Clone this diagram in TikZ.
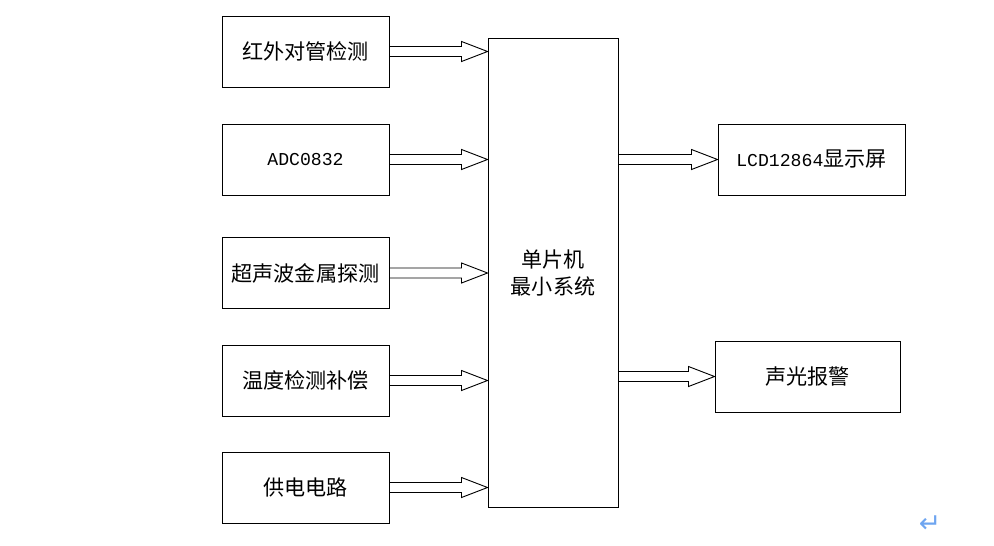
\documentclass[tikz,border=0pt]{standalone}
\usepackage{fontspec}
\usepackage{xcolor}
\usepackage{tikz}
\usetikzlibrary{calc, positioning}
\newfontfamily\cjk{Noto Sans CJK SC}
\newfontfamily\asc{Liberation Mono}[Scale=0.86]
\newfontfamily\symb{DejaVu Sans}
\definecolor{markblue}{RGB}{110,165,240}

\tikzset{
    blk/.style={
        draw=black,
        line width=0.65pt,
        fill=white,
        minimum width=4.175cm,
        minimum height=1.775cm,
        inner sep=0pt,
        font=\cjk\fontsize{15pt}{19pt}\selectfont
    },
    blockarr/.style={
        draw=black,
        line width=0.65pt,
        to path={
            let \p1=(\tikztostart), \p2=(\tikztotarget) in
            (\x1,\y1+0.125cm) -- (\x2-0.65cm,\y1+0.125cm) -- (\x2-0.65cm,\y1+0.25cm)
            -- (\x2,\y1) -- (\x2-0.65cm,\y1-0.25cm) -- (\x2-0.65cm,\y1-0.125cm)
            -- (\x1,\y1-0.125cm) -- cycle
        }
    }
}

\begin{document}
\begin{tikzpicture}[x=0.025cm, y=-0.025cm]
                \useasboundingbox (0,0) rectangle (994,546);
                \node[blk] (ir) at (305.5,51.5) {红外对管检测};
                \node[blk] (adc) at (305.5,159.5) {\asc ADC0832};
                \node[blk] (ultra) at (305.5,273) {超声波金属探测};
                \node[blk] (temp) at (305.5,380.5) {温度检测补偿};
                \node[blk] (power) at (305.5,487.5) {供电电路};
                \node[blk,
                    minimum width=3.25cm,
                    minimum height=11.7cm,
                    align=center
                ] (mcu) at (553,273) {单片机\\最小系统};
                \node[blk, minimum width=4.675cm] (lcd) at (811.5,159.5) {{\asc LCD12864}显示屏};
                \node[blk, minimum width=4.625cm] (alarm) at (807.5,376.5) {声光报警};

                \foreach \src in {ir, adc, ultra, temp, power}
                    \draw[blockarr] (\src.east) to (mcu.west |- \src.east);
                \draw[blockarr] (mcu.east |- lcd.west) to (lcd.west);
                \draw[blockarr] (mcu.east |- alarm.west) to (alarm.west);

                \node[text=markblue, font=\symb\fontsize{19pt}{19pt}\selectfont] (mark) at (930,524) {↵};
            \end{tikzpicture}
\end{document}
